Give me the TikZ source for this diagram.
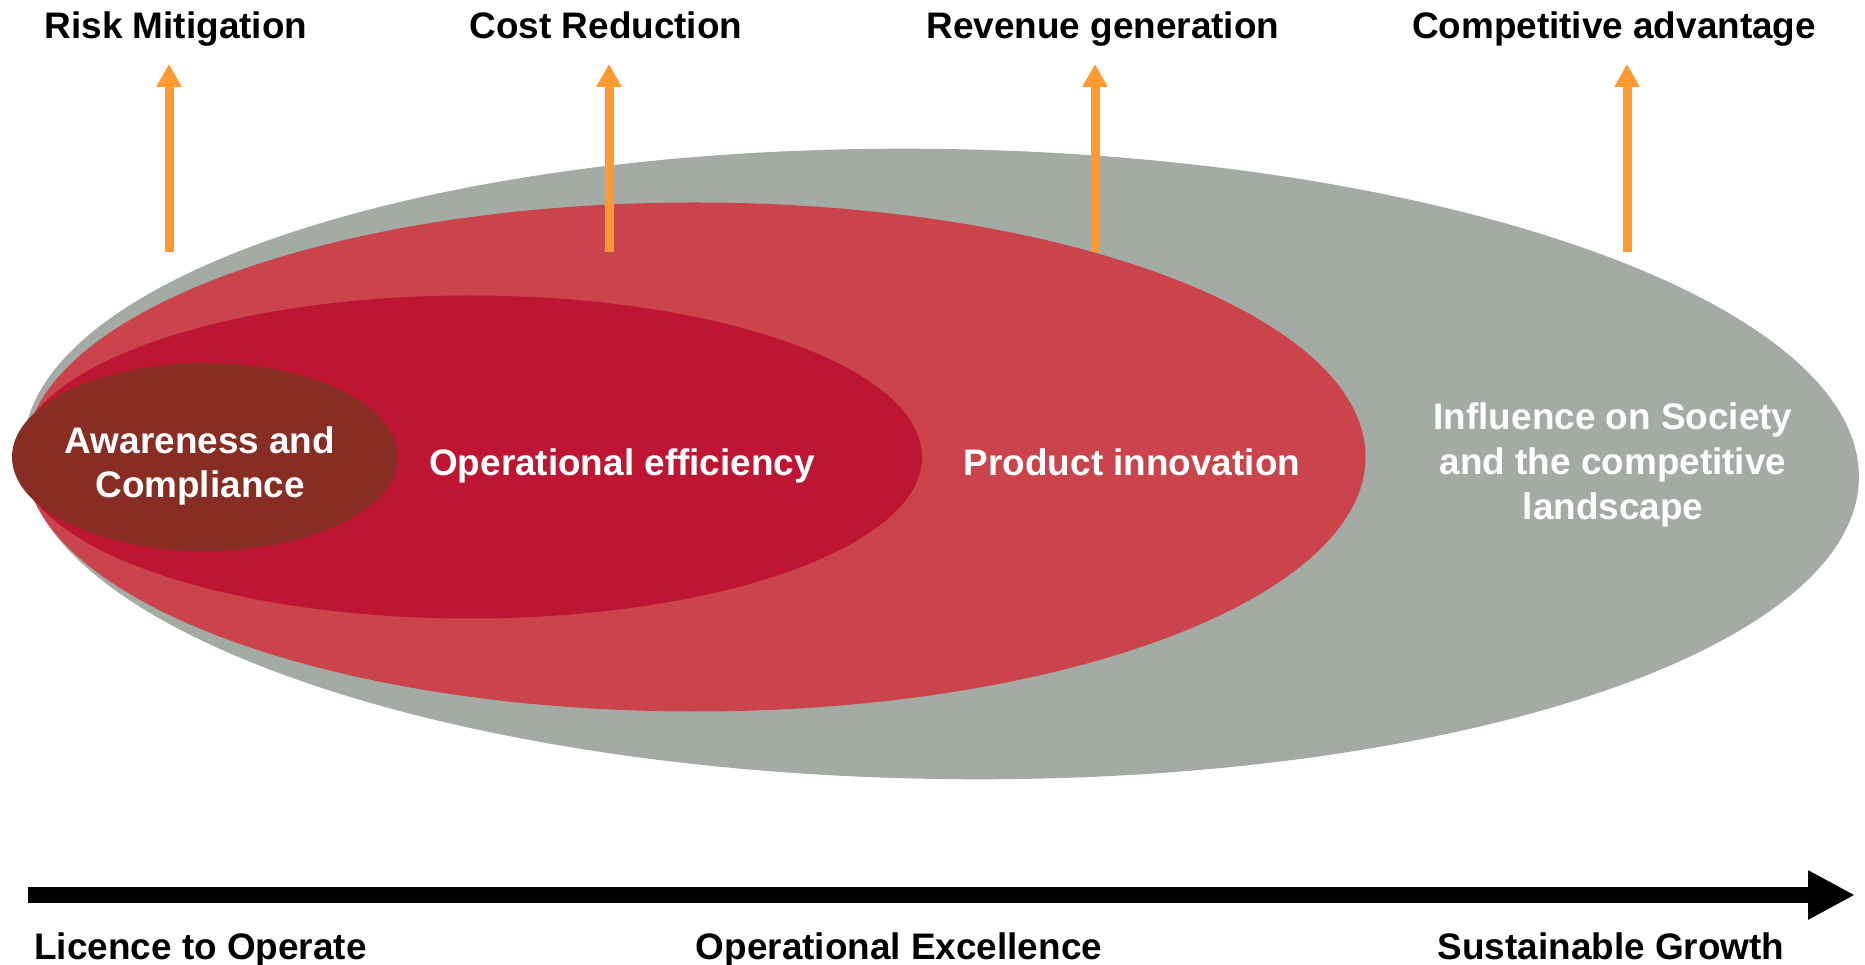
\documentclass[tikz,border=0pt]{standalone}
\usepackage{fontspec}
\setmainfont{Liberation Sans}
\usepackage{tikz}
\usetikzlibrary{arrows.meta, positioning, shapes.geometric}
\usepackage{xcolor}

\definecolor{societygray}{HTML}{A4ABA4}
\definecolor{productred}{HTML}{CC444B}
\definecolor{effred}{HTML}{BE1533}
\definecolor{compbrown}{HTML}{872D24}
\definecolor{valueorange}{HTML}{FF9A33}

\begin{document}
\begin{tikzpicture}[
  every node/.style={font=\fontsize{10.5}{12.3}\selectfont\bfseries},
  blob/.style={ellipse, inner sep=0pt, outer sep=0pt},
  inlabel/.style={text=white, align=center},
  toplabel/.style={text=black, align=center, anchor=base},
  value/.style={-{Triangle[length=2.3mm, width=2.4mm]}, line width=0.9mm, valueorange},
  axis/.style={-{Triangle[length=4.7mm, width=4.6mm]}, line width=1.6mm, black}
]
  \useasboundingbox (0,0) rectangle (18.65,-9.65);

  % Nested stages
  \node[blob, fill=societygray, minimum width=18.36cm, minimum height=6.30cm, rotate=-0.9] (society) at (9.41,-4.64) {};
  \node[blob, fill=productred, minimum width=13.41cm, minimum height=5.09cm] (product) at (6.95,-4.57) {};
  \node[blob, fill=effred, minimum width=9.04cm, minimum height=3.23cm] (efficiency) at (4.70,-4.57) {};
  \node[blob, fill=compbrown, minimum width=3.86cm, minimum height=1.88cm] (compliance) at (2.05,-4.57) {};

  % Stage texts
  \node[inlabel] (compliance-txt) at (2.00,-4.66) {Awareness and\\Compliance};
  \node[inlabel] (efficiency-txt) at (6.22,-4.66) {Operational efficiency};
  \node[inlabel] (product-txt)    at (11.32,-4.62) {Product innovation};
  \node[inlabel, font=\fontsize{10.5}{12.7}\selectfont\bfseries] (society-txt) at (16.13,-4.65) {Influence on Society\\and the competitive\\landscape};

  % Value drivers
  \node[toplabel] (risk)    at (1.76,-0.39)  {Risk Mitigation};
  \node[toplabel] (cost)    at (6.06,-0.39)  {Cost Reduction};
  \node[toplabel] (revenue) at (11.03,-0.39) {Revenue generation};
  \node[toplabel] (compet)  at (16.14,-0.39) {Competitive advantage};

  \coordinate (risk-base)    at (1.69,-2.52);
  \coordinate (risk-tip)     at (1.69,-0.64);
  \coordinate (cost-base)    at (6.09,-2.52);
  \coordinate (cost-tip)     at (6.09,-0.64);
  \coordinate (revenue-base) at (10.95,-2.52);
  \coordinate (revenue-tip)  at (10.95,-0.64);
  \coordinate (compet-base)  at (16.27,-2.52);
  \coordinate (compet-tip)   at (16.27,-0.64);

  \draw[value] (risk-base) -- (risk-tip);
  \draw[value] (cost-base) -- (cost-tip);
  \draw[value] (revenue-base) -- (revenue-tip);
  \draw[value] (compet-base) -- (compet-tip);

  % Maturity axis
  \coordinate (axis-start) at (0.28,-8.95);
  \coordinate (axis-end)   at (18.55,-8.95);
  \draw[axis] (axis-start) -- (axis-end);

  \node[toplabel, anchor=base west] (licence) at (0.22,-9.59) {Licence to Operate};
  \node[toplabel] (excellence) at (8.99,-9.59) {Operational Excellence};
  \node[toplabel] (growth)     at (16.11,-9.59) {Sustainable Growth};
\end{tikzpicture}
\end{document}
